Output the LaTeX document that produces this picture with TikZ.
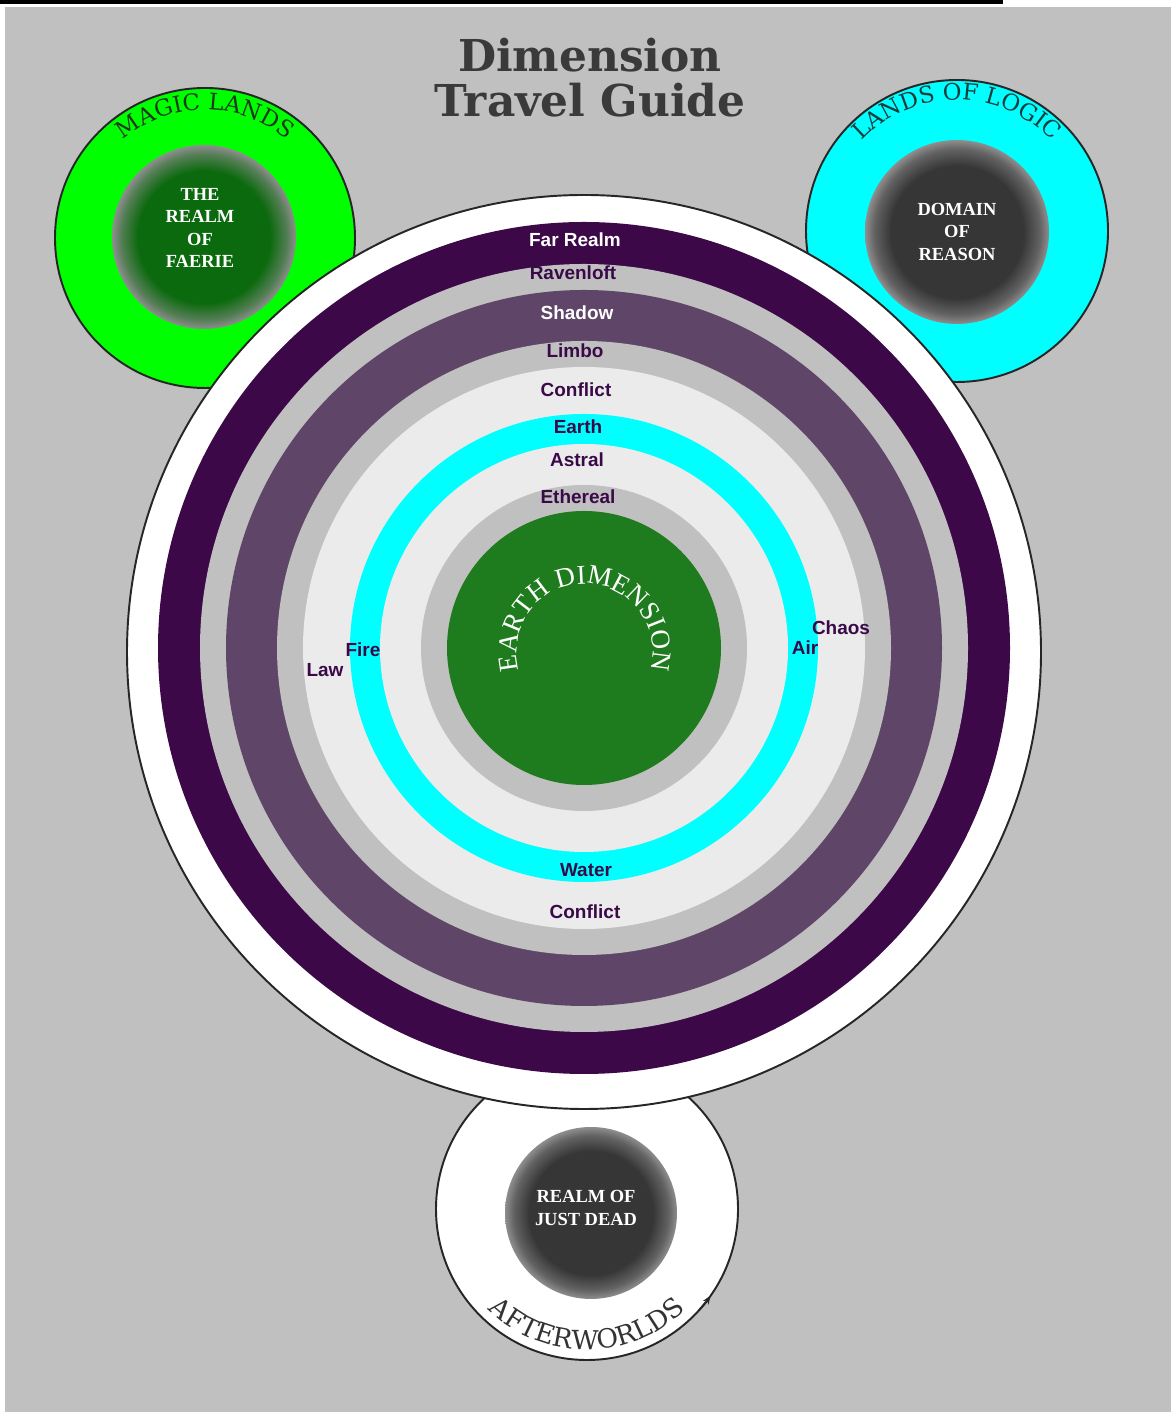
\documentclass[tikz,border=0pt]{standalone}
\usepackage{fontspec}
\setmainfont{Liberation Serif}
\setsansfont{Liberation Sans}
\newfontfamily\titlefont{DejaVu Serif}
\newfontfamily\arcfont{DejaVu Serif}
\usetikzlibrary{arrows.meta, positioning, decorations.text}

\definecolor{bggray}{HTML}{C0C0C0}
\definecolor{farpurple}{HTML}{3C0848}
\definecolor{shadowpurple}{HTML}{5F4668}
\definecolor{speckwhite}{HTML}{EBEBEB}
\definecolor{planecyan}{HTML}{00FFFF}
\definecolor{earthgreen}{HTML}{1E7B1E}
\definecolor{magicgreen}{HTML}{00FF00}
\definecolor{labelpurple}{HTML}{3A0A48}
\definecolor{titlegray}{HTML}{3A3A3A}
\definecolor{faeriegreen}{HTML}{0C6A0E}
\definecolor{coregray}{HTML}{363636}
\definecolor{edgegray}{HTML}{8E8E8E}
\definecolor{arcgreen}{HTML}{203A20}
\definecolor{arcteal}{HTML}{1C3C3C}

\pgfdeclareradialshading{faeriecore}{\pgfpointorigin}{color(0bp)=(faeriegreen); color(18bp)=(faeriegreen); color(22.5bp)=(faeriegreen!45!edgegray); color(25bp)=(edgegray); color(50bp)=(edgegray)}
\pgfdeclareradialshading{darkcore}{\pgfpointorigin}{color(0bp)=(coregray); color(18bp)=(coregray); color(22.5bp)=(coregray!50!edgegray); color(25bp)=(edgegray); color(50bp)=(edgegray)}

\begin{document}
\begin{tikzpicture}[
                x=0.02cm, y=0.02cm,
                every node/.style={inner sep=1pt},
                ringlabel/.style={font=\sffamily\bfseries\fontsize{10.8}{12}\selectfont, text=labelpurple},
                realmlabel/.style={align=center, text=white, font=\bfseries\fontsize{10.5}{12.6}\selectfont},
                titleline/.style={text=titlegray, font=\titlefont\bfseries\fontsize{25}{26}\selectfont},
                lands/.style={line width=1.1pt, draw=black!85}]

            % Rahmen
            \useasboundingbox (0,0) rectangle (1171,1412);
            \fill[white] (0,0) rectangle (1171,1412);
            \fill[bggray] (5,0) rectangle (1171,1405);
            \fill[black] (0,1408) rectangle (1003,1412);

            % Titel
            \node[titleline] (dimension) at (590,1357) {Dimension};
            \node[titleline] (travelguide) at (590,1312) {Travel Guide};

            % Magic Lands
            \draw[lands, fill=magicgreen] (205,1174) circle (150);
            \shade[shading=faeriecore] (204,1175) circle (92);
            \path[decorate, decoration={text along path, text align=center, text color=arcgreen,
                  text={|\arcfont\fontsize{13}{13}\selectfont|MAGIC LANDS}}]
                  (205,1174) ++(160:128) arc[start angle=160, end angle=20, radius=128];
            \node[realmlabel] (faerie) at (200,1184) {THE\\REALM\\OF\\FAERIE};

            % Lands of Logic
            \draw[lands, fill=planecyan] (957,1181) circle (151);
            \shade[shading=darkcore] (957,1180) circle (92);
            \path[decorate, decoration={text along path, text align=center, text color=arcteal,
                  text={|\arcfont\fontsize{13}{13}\selectfont|LANDS OF LOGIC}}]
                  (957,1181) ++(165:131) arc[start angle=165, end angle=15, radius=131];
            \node[realmlabel] (reason) at (957,1180) {DOMAIN\\OF\\REASON};

            % Afterworlds
            \draw[lands, fill=white] (587,203) circle (151);
            \shade[shading=darkcore] (591,199) circle (86);
            \path[decorate, decoration={text along path, text align=center, text color=black!80,
                  text={|\arcfont\fontsize{15}{15}\selectfont|AFTERWORLDS}}]
                  (587,203) ++(210:141) arc[start angle=210, end angle=330, radius=141];
            \draw[lands, -{Stealth[length=5pt]}] (587,203) ++(-42:151) arc[start angle=-42, end angle=-35, radius=151];
            \node[realmlabel] (justdead) at (586,204) {REALM OF\\JUST DEAD};

            % Ebenen
            \coordinate (hub) at (584,764);
            \draw[lands, fill=white] (584,760) circle (457);
            \fill[farpurple] (hub) circle (426);
            \fill[bggray] (hub) circle (384);
            \fill[shadowpurple] (hub) circle (358);
            \fill[bggray] (hub) circle (307);
            \fill[speckwhite] (hub) circle (281);
            \fill[planecyan] (hub) circle (234);
            \fill[speckwhite] (hub) circle (204);
            \fill[bggray] (hub) circle (163);
            \fill[earthgreen] (hub) circle (137);

            \path[decorate, decoration={text along path, text align=center, text color=white,
                  text={|\fontsize{15.5}{15.5}\selectfont|EARTH DIMENSION}}]
                  (585,760) ++(215:68) arc[start angle=215, end angle=-35, radius=68];

            \node[ringlabel, text=white] (farrealm) at (575,1172) {Far Realm};
            \node[ringlabel] (ravenloft) at (573,1139) {Ravenloft};
            \node[ringlabel, text=white] (shadow) at (577,1099) {Shadow};
            \node[ringlabel] (limbo) at (575,1061) {Limbo};
            \node[ringlabel] (conflicttop) at (576,1022) {Conflict};
            \node[ringlabel] (earth) at (578,985) {Earth};
            \node[ringlabel] (astral) at (577,952) {Astral};
            \node[ringlabel] (ethereal) at (578,915) {Ethereal};
            \node[ringlabel] (law) at (325,742) {Law};
            \node[ringlabel] (fire) at (363,762) {Fire};
            \node[ringlabel] (chaos) at (841,784) {Chaos};
            \node[ringlabel] (air) at (805,764) {Air};
            \node[ringlabel] (water) at (586,542) {Water};
            \node[ringlabel] (conflictlow) at (585,500) {Conflict};

        \end{tikzpicture}
\end{document}
